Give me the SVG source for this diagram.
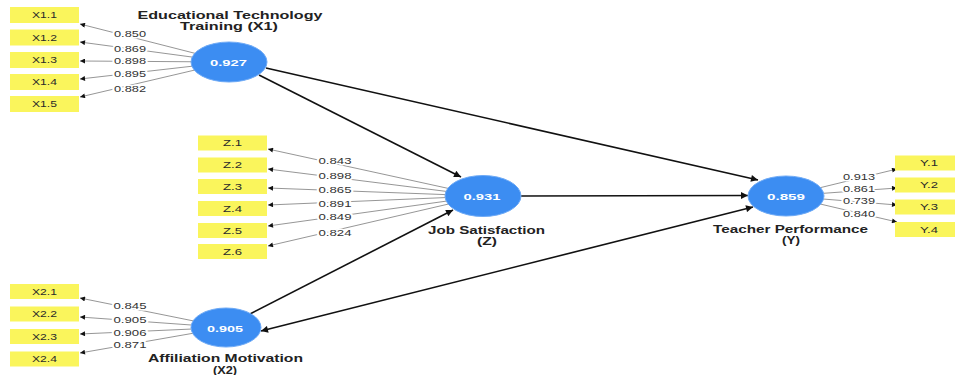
<svg xmlns="http://www.w3.org/2000/svg" width="955" height="375" viewBox="0 0 955 375">
<style>
.bg{fill:#ffffff}
.ind rect{fill:#faf55c}
.ind text{font-family:"Liberation Sans",Arial,sans-serif;font-size:9px;fill:#2a2a2a;text-anchor:middle}
.lv ellipse{fill:#3c8df2;stroke:#6eaaf6;stroke-width:1}
.val{font-family:"Liberation Sans",Arial,sans-serif;font-size:9px;font-weight:bold;fill:#fff;text-anchor:middle}
.ttl{font-family:"Liberation Sans",Arial,sans-serif;font-size:10px;font-weight:bold;fill:#222;text-anchor:middle}
.il{stroke:#8a8a8a;stroke-width:0.9;fill:none;marker-end:url(#sa)}
.sl{stroke:#111;stroke-width:1.6;fill:none;marker-end:url(#la)}
.ld{font-family:"Liberation Sans",Arial,sans-serif;font-size:9px;fill:#333;text-anchor:middle;stroke:#fff;stroke-width:3;paint-order:stroke;stroke-linejoin:round}
</style>
<defs>
<marker id="sa" viewBox="0 0 10 10" refX="10" refY="5" markerWidth="8" markerHeight="5" markerUnits="userSpaceOnUse" orient="auto"><path d="M0,0 L10,5 L0,10 z" fill="#111"/></marker>
<marker id="la" viewBox="0 0 10 10" refX="10" refY="5" markerWidth="10" markerHeight="7" markerUnits="userSpaceOnUse" orient="auto-start-reverse"><path d="M0,0 L10,5 L0,10 z" fill="#111"/></marker>
</defs>
<rect class="bg" x="0" y="0" width="955" height="375"/>

<g id="connectors">
  <!-- X1 indicators -->
  <line class="il" x1="229" y1="62" x2="80" y2="24"/>
  <line class="il" x1="229" y1="62" x2="80" y2="42"/>
  <line class="il" x1="229" y1="62" x2="80" y2="61"/>
  <line class="il" x1="229" y1="62" x2="80" y2="79"/>
  <line class="il" x1="229" y1="62" x2="80" y2="97"/>
  <!-- Z indicators -->
  <line class="il" x1="483" y1="196" x2="268" y2="149"/>
  <line class="il" x1="483" y1="196" x2="268" y2="169"/>
  <line class="il" x1="483" y1="196" x2="268" y2="188"/>
  <line class="il" x1="483" y1="196" x2="268" y2="205"/>
  <line class="il" x1="483" y1="196" x2="268" y2="226"/>
  <line class="il" x1="483" y1="196" x2="268" y2="246"/>
  <!-- X2 indicators -->
  <line class="il" x1="226" y1="327.5" x2="80" y2="298"/>
  <line class="il" x1="226" y1="327.5" x2="80" y2="317"/>
  <line class="il" x1="226" y1="327.5" x2="80" y2="334"/>
  <line class="il" x1="226" y1="327.5" x2="80" y2="353"/>
  <!-- Y indicators -->
  <line class="il" x1="786" y1="196" x2="897" y2="169"/>
  <line class="il" x1="786" y1="196" x2="897" y2="188"/>
  <line class="il" x1="786" y1="196" x2="897" y2="205"/>
  <line class="il" x1="786" y1="196" x2="897" y2="222"/>
  <!-- structural paths -->
  <line class="sl" x1="259" y1="75" x2="461" y2="177"/>
  <line class="sl" x1="266" y1="68" x2="758" y2="180"/>
  <line class="sl" x1="521" y1="196" x2="748" y2="195.5"/>
  <line class="sl" x1="250" y1="314" x2="453" y2="210"/>
  <line class="sl" x1="261" y1="331" x2="753" y2="207" marker-start="url(#la)"/>
  <!-- loadings -->
  <text class="ld" x="130" y="37.3" textLength="32" lengthAdjust="spacingAndGlyphs">0.850</text>
  <text class="ld" x="130" y="51.5" textLength="32" lengthAdjust="spacingAndGlyphs">0.869</text>
  <text class="ld" x="130" y="64" textLength="32" lengthAdjust="spacingAndGlyphs">0.898</text>
  <text class="ld" x="130" y="76.5" textLength="32" lengthAdjust="spacingAndGlyphs">0.895</text>
  <text class="ld" x="130" y="91.5" textLength="32" lengthAdjust="spacingAndGlyphs">0.882</text>
  <text class="ld" x="335" y="164.3" textLength="33" lengthAdjust="spacingAndGlyphs">0.843</text>
  <text class="ld" x="335" y="179" textLength="33" lengthAdjust="spacingAndGlyphs">0.898</text>
  <text class="ld" x="335" y="192.7" textLength="33" lengthAdjust="spacingAndGlyphs">0.865</text>
  <text class="ld" x="335" y="206.7" textLength="33" lengthAdjust="spacingAndGlyphs">0.891</text>
  <text class="ld" x="335" y="220.3" textLength="33" lengthAdjust="spacingAndGlyphs">0.849</text>
  <text class="ld" x="335" y="235.7" textLength="33" lengthAdjust="spacingAndGlyphs">0.824</text>
  <text class="ld" x="130" y="309.3" textLength="33" lengthAdjust="spacingAndGlyphs">0.845</text>
  <text class="ld" x="130" y="322.7" textLength="33" lengthAdjust="spacingAndGlyphs">0.905</text>
  <text class="ld" x="130" y="335.7" textLength="33" lengthAdjust="spacingAndGlyphs">0.906</text>
  <text class="ld" x="130" y="348.3" textLength="33" lengthAdjust="spacingAndGlyphs">0.871</text>
  <text class="ld" x="859" y="180" textLength="32" lengthAdjust="spacingAndGlyphs">0.913</text>
  <text class="ld" x="859" y="192.3" textLength="32" lengthAdjust="spacingAndGlyphs">0.861</text>
  <text class="ld" x="859" y="204" textLength="32" lengthAdjust="spacingAndGlyphs">0.739</text>
  <text class="ld" x="859" y="217.3" textLength="32" lengthAdjust="spacingAndGlyphs">0.840</text>
</g>

<g id="X1" class="lv">
  <ellipse cx="229" cy="62" rx="38" ry="20"/>
  <text class="val" x="228.5" y="65.5" textLength="37" lengthAdjust="spacingAndGlyphs">0.927</text>
  <text class="ttl" x="230" y="18.5" textLength="185" lengthAdjust="spacingAndGlyphs">Educational Technology</text>
  <text class="ttl" x="229" y="29.5" textLength="98" lengthAdjust="spacingAndGlyphs">Training (X1)</text>
</g>
<g id="Z" class="lv">
  <ellipse cx="483" cy="196" rx="38" ry="20.5"/>
  <text class="val" x="482" y="199.5" textLength="37" lengthAdjust="spacingAndGlyphs">0.931</text>
  <text class="ttl" x="486.5" y="233.5" textLength="117" lengthAdjust="spacingAndGlyphs">Job Satisfaction</text>
  <text class="ttl" x="487" y="244.5" textLength="20" lengthAdjust="spacingAndGlyphs">(Z)</text>
</g>
<g id="X2" class="lv">
  <ellipse cx="226" cy="327.5" rx="35" ry="19.5"/>
  <text class="val" x="225" y="331.5" textLength="36" lengthAdjust="spacingAndGlyphs">0.905</text>
  <text class="ttl" x="225.5" y="362" textLength="155" lengthAdjust="spacingAndGlyphs">Affiliation Motivation</text>
  <text class="ttl" x="225" y="373.5" textLength="24" lengthAdjust="spacingAndGlyphs">(X2)</text>
</g>
<g id="Y" class="lv">
  <ellipse cx="786" cy="196" rx="38" ry="20"/>
  <text class="val" x="786" y="199.5" textLength="38" lengthAdjust="spacingAndGlyphs">0.859</text>
  <text class="ttl" x="790.5" y="232.5" textLength="155" lengthAdjust="spacingAndGlyphs">Teacher Performance</text>
  <text class="ttl" x="791" y="243.5" textLength="18" lengthAdjust="spacingAndGlyphs">(Y)</text>
</g>

<g id="X1.1" class="ind"><rect x="10" y="7" width="69" height="16"/><text x="44.5" y="18.3" textLength="25" lengthAdjust="spacingAndGlyphs">X1.1</text></g>
<g id="X1.2" class="ind"><rect x="10" y="29.5" width="69" height="16"/><text x="44.5" y="40.8" textLength="25" lengthAdjust="spacingAndGlyphs">X1.2</text></g>
<g id="X1.3" class="ind"><rect x="10" y="52" width="69" height="16"/><text x="44.5" y="63.3" textLength="25" lengthAdjust="spacingAndGlyphs">X1.3</text></g>
<g id="X1.4" class="ind"><rect x="10" y="74" width="69" height="16"/><text x="44.5" y="85.3" textLength="25" lengthAdjust="spacingAndGlyphs">X1.4</text></g>
<g id="X1.5" class="ind"><rect x="10" y="96" width="69" height="16"/><text x="44.5" y="107.3" textLength="25" lengthAdjust="spacingAndGlyphs">X1.5</text></g>

<g id="Z.1" class="ind"><rect x="198" y="135.5" width="69" height="15"/><text x="232.5" y="146.3" textLength="19" lengthAdjust="spacingAndGlyphs">Z.1</text></g>
<g id="Z.2" class="ind"><rect x="198" y="157.5" width="69" height="15"/><text x="232.5" y="168.3" textLength="19" lengthAdjust="spacingAndGlyphs">Z.2</text></g>
<g id="Z.3" class="ind"><rect x="198" y="179" width="69" height="15"/><text x="232.5" y="189.8" textLength="19" lengthAdjust="spacingAndGlyphs">Z.3</text></g>
<g id="Z.4" class="ind"><rect x="198" y="201" width="69" height="15"/><text x="232.5" y="211.8" textLength="19" lengthAdjust="spacingAndGlyphs">Z.4</text></g>
<g id="Z.5" class="ind"><rect x="198" y="223" width="69" height="15"/><text x="232.5" y="233.8" textLength="19" lengthAdjust="spacingAndGlyphs">Z.5</text></g>
<g id="Z.6" class="ind"><rect x="198" y="244" width="69" height="15"/><text x="232.5" y="254.8" textLength="19" lengthAdjust="spacingAndGlyphs">Z.6</text></g>

<g id="X2.1" class="ind"><rect x="10" y="284" width="69" height="15"/><text x="44.5" y="294.8" textLength="25" lengthAdjust="spacingAndGlyphs">X2.1</text></g>
<g id="X2.2" class="ind"><rect x="10" y="306.5" width="69" height="15"/><text x="44.5" y="317.3" textLength="25" lengthAdjust="spacingAndGlyphs">X2.2</text></g>
<g id="X2.3" class="ind"><rect x="10" y="329" width="69" height="15"/><text x="44.5" y="339.8" textLength="25" lengthAdjust="spacingAndGlyphs">X2.3</text></g>
<g id="X2.4" class="ind"><rect x="10" y="351.5" width="69" height="15"/><text x="44.5" y="362.3" textLength="25" lengthAdjust="spacingAndGlyphs">X2.4</text></g>

<g id="Y.1" class="ind"><rect x="895" y="155.5" width="69" height="15"/><text x="929" y="166.3" textLength="18" lengthAdjust="spacingAndGlyphs">Y.1</text></g>
<g id="Y.2" class="ind"><rect x="895" y="177.5" width="69" height="15"/><text x="929" y="188.3" textLength="18" lengthAdjust="spacingAndGlyphs">Y.2</text></g>
<g id="Y.3" class="ind"><rect x="895" y="199.5" width="69" height="15"/><text x="929" y="210.3" textLength="18" lengthAdjust="spacingAndGlyphs">Y.3</text></g>
<g id="Y.4" class="ind"><rect x="895" y="222" width="69" height="15"/><text x="929" y="232.8" textLength="18" lengthAdjust="spacingAndGlyphs">Y.4</text></g>
</svg>
